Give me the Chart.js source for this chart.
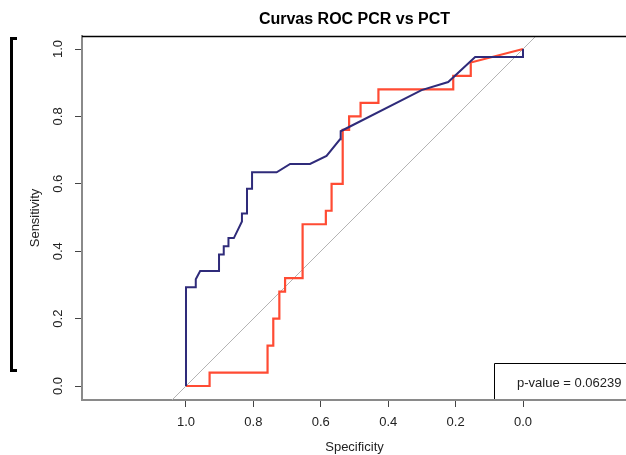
<!DOCTYPE html>
<html>
<head>
<meta charset="utf-8">
<script src="https://cdn.jsdelivr.net/npm/chart.js@4.4.1/dist/chart.umd.min.js"></script>
<style>
  html, body { margin: 0; padding: 0; background: #fff; overflow: hidden; }
  #wrap { width: 640px; height: 455px; }
</style>
</head>
<body>
<div id="wrap"><canvas id="rocChart" width="640" height="455"></canvas></div>
<script>
// ROC curve points (specificity, sensitivity)
const navySpec = [1.0, 1.0, 0.971, 0.971, 0.958, 0.902, 0.902, 0.888, 0.888, 0.874, 0.874, 0.858, 0.834, 0.834, 0.819, 0.819, 0.804, 0.804, 0.731, 0.691, 0.632, 0.583, 0.543, 0.541, 0.301, 0.222, 0.142, 0.0, 0.0];
const navySens = [0.0, 0.293, 0.293, 0.317, 0.341, 0.341, 0.39, 0.39, 0.415, 0.415, 0.439, 0.439, 0.488, 0.512, 0.512, 0.585, 0.585, 0.634, 0.634, 0.659, 0.659, 0.683, 0.732, 0.756, 0.878, 0.902, 0.976, 0.976, 1.0];

const redSpec = [1.0, 0.930, 0.930, 0.758, 0.758, 0.741, 0.741, 0.723, 0.723, 0.706, 0.706, 0.654, 0.654, 0.585, 0.585, 0.568, 0.568, 0.535, 0.535, 0.516, 0.516, 0.482, 0.482, 0.429, 0.429, 0.207, 0.207, 0.155, 0.155, 0.0];
const redSens = [0.0, 0.0, 0.04, 0.04, 0.12, 0.12, 0.20, 0.20, 0.28, 0.28, 0.32, 0.32, 0.48, 0.48, 0.52, 0.52, 0.60, 0.60, 0.76, 0.76, 0.80, 0.80, 0.84, 0.84, 0.88, 0.88, 0.92, 0.92, 0.96, 1.0];

// chance line, sensitivity = 1 - specificity
const diagSpec = [1.5, -0.5];
const diagSens = [-0.5, 1.5];

const xTicks = [1.0, 0.8, 0.6, 0.4, 0.2, 0.0];
const yTicks = [0.0, 0.2, 0.4, 0.6, 0.8, 1.0];

const chartTitle = 'Curvas ROC PCR vs PCT';
const pValueText = 'p-value = 0.06239';

const zip = (xs, ys) => xs.map((x, i) => ({ x: x, y: ys[i] }));

const FONT = '"Liberation Sans", Arial, sans-serif';
const TEXT = '#222';

const extras = {
  id: 'extras',
  afterDraw(chart) {
    const ctx = chart.ctx;
    const area = chart.chartArea;
    ctx.save();

    // top edge of the box
    ctx.strokeStyle = '#000';
    ctx.lineWidth = 1.5;
    ctx.beginPath();
    ctx.moveTo(area.left, area.top + 0.5);
    ctx.lineTo(chart.width, area.top + 0.5);
    ctx.stroke();

    // left bracket
    ctx.lineWidth = 3;
    ctx.beginPath();
    ctx.moveTo(17, 38.5);
    ctx.lineTo(11.5, 38.5);
    ctx.lineTo(11.5, 370.5);
    ctx.lineTo(17, 370.5);
    ctx.stroke();

    // p-value box
    ctx.fillStyle = '#fff';
    ctx.fillRect(495, 364, chart.width - 495, area.bottom - 365);
    ctx.strokeStyle = '#000';
    ctx.lineWidth = 1;
    ctx.beginPath();
    ctx.moveTo(494.5, area.bottom - 1);
    ctx.lineTo(494.5, 363.5);
    ctx.lineTo(chart.width, 363.5);
    ctx.stroke();
    ctx.fillStyle = TEXT;
    ctx.font = '13px ' + FONT;
    ctx.textAlign = 'left';
    ctx.textBaseline = 'middle';
    ctx.fillText(pValueText, 517, 383);

    // title
    ctx.font = 'bold 16px ' + FONT;
    ctx.fillStyle = '#000';
    ctx.textAlign = 'center';
    ctx.fillText(chartTitle, (area.left + area.right) / 2, 20);
    ctx.restore();
  }
};

new Chart(document.getElementById('rocChart'), {
  type: 'scatter',
  data: {
    datasets: [
      {
        label: 'PCR',
        data: zip(navySpec, navySens),
        showLine: true,
        borderColor: '#2F2B7A',
        borderWidth: 2,
        pointRadius: 0,
        tension: 0
      },
      {
        label: 'PCT',
        data: zip(redSpec, redSens),
        showLine: true,
        borderColor: '#FF4B33',
        borderWidth: 2.2,
        pointRadius: 0,
        tension: 0
      },
      {
        label: 'chance',
        data: zip(diagSpec, diagSens),
        showLine: true,
        borderColor: '#b4b4b4',
        borderWidth: 1,
        pointRadius: 0
      }
    ]
  },
  options: {
    responsive: false,
    animation: false,
    devicePixelRatio: 1,
    layout: { padding: { left: 0, right: 13, top: 36, bottom: 0 } },
    plugins: {
      legend: { display: false },
      tooltip: { enabled: false }
    },
    scales: {
      x: {
        type: 'linear',
        reverse: true,
        min: -0.3086,
        max: 1.3086,
        afterBuildTicks: s => { s.ticks = xTicks.map(v => ({ value: v })); },
        afterFit: s => { s.height = 55; },
        ticks: {
          autoSkip: false,
          padding: 8,
          color: TEXT,
          font: { family: FONT, size: 13 },
          callback: v => v.toFixed(1)
        },
        grid: { drawOnChartArea: false, drawTicks: true, tickLength: 7, tickColor: '#444', tickWidth: 1 },
        border: { display: true, color: '#8a8a8a', width: 2 },
        title: {
          display: true,
          text: 'Specificity',
          color: TEXT,
          font: { family: FONT, size: 13 },
          padding: { top: 0, bottom: 0 }
        }
      },
      y: {
        type: 'linear',
        min: -0.0415,
        max: 1.0386,
        afterBuildTicks: s => { s.ticks = yTicks.map(v => ({ value: v })); },
        afterFit: s => { s.width = 82; },
        ticks: {
          autoSkip: false,
          minRotation: 90,
          maxRotation: 90,
          crossAlign: 'center',
          padding: 8,
          color: TEXT,
          font: { family: FONT, size: 13 },
          callback: v => v.toFixed(1)
        },
        grid: { drawOnChartArea: false, drawTicks: true, tickLength: 7, tickColor: '#444', tickWidth: 1 },
        border: { display: true, color: '#8a8a8a', width: 2 },
        title: {
          display: true,
          text: 'Sensitivity',
          color: TEXT,
          font: { family: FONT, size: 13 },
          padding: { top: 28, bottom: 0 }
        }
      }
    }
  },
  plugins: [extras]
});
</script>
</body>
</html>
